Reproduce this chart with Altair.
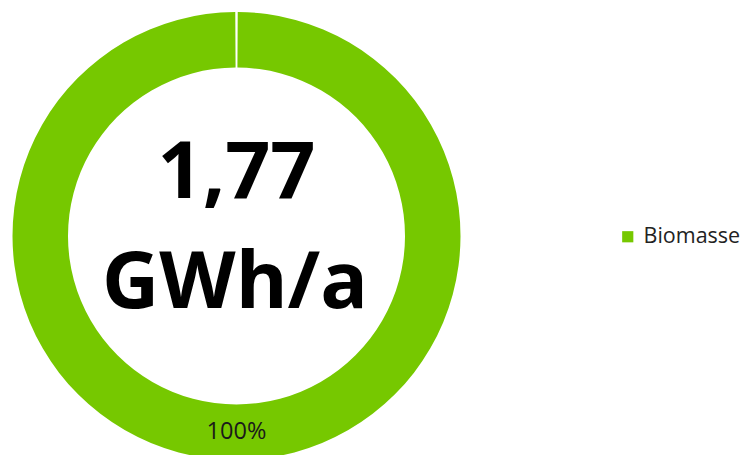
import altair as alt
import pandas as pd

categories = ["Biomasse"]
values = [1.77]
shares = ["100%"]
center_lines = ["1,77", "GWh/a"]
green = "#76C800"

df = pd.DataFrame({"Quelle": categories, "Wert": values, "Anteil": shares})

cx, cy = 228.5, 228

base = alt.Chart(df).encode(
    theta=alt.Theta("Wert:Q", stack=True,
                    scale=alt.Scale(range=[0.0055, 6.2777])),
)

arc = base.mark_arc(outerRadius=224, innerRadius=168.5).encode(
    x=alt.value(cx), y=alt.value(cy),
    color=alt.Color("Quelle:N",
                    scale=alt.Scale(domain=categories, range=[green]),
                    legend=alt.Legend(title=None, orient="none",
                                      legendX=609, legendY=218,
                                      symbolType="square", symbolSize=125,
                                      symbolStrokeWidth=0,
                                      labelFontSize=21.5, labelFont="Open Sans",
                                      labelColor="#222222", labelOffset=5,
                                      labelLimit=300, padding=0)),
)

label = base.mark_text(radius=196, font="Open Sans", fontSize=23.5,
                       color="#1a1a1a").encode(
    x=alt.value(cx), y=alt.value(cy),
    text="Anteil:N",
)

line1 = alt.Chart(pd.DataFrame({"t": [center_lines[0]]})).mark_text(
    font="Open Sans", fontWeight="bold", fontSize=79, color="#000000",
    baseline="alphabetic", align="center",
).encode(x=alt.value(cx), y=alt.value(190), text="t:N")

line2 = alt.Chart(pd.DataFrame({"t": [center_lines[1]]})).mark_text(
    font="Open Sans", fontWeight="bold", fontSize=79, color="#000000",
    baseline="alphabetic", align="center",
).encode(x=alt.value(cx - 1.5), y=alt.value(300), text="t:N")

chart = alt.layer(arc, label, line1, line2).properties(
    width=735, height=447, padding=0,
    autosize=alt.AutoSizeParams(type="none"),
).configure_view(stroke=None)

chart.save("out.html", embed_options={"renderer": "svg", "actions": False})
